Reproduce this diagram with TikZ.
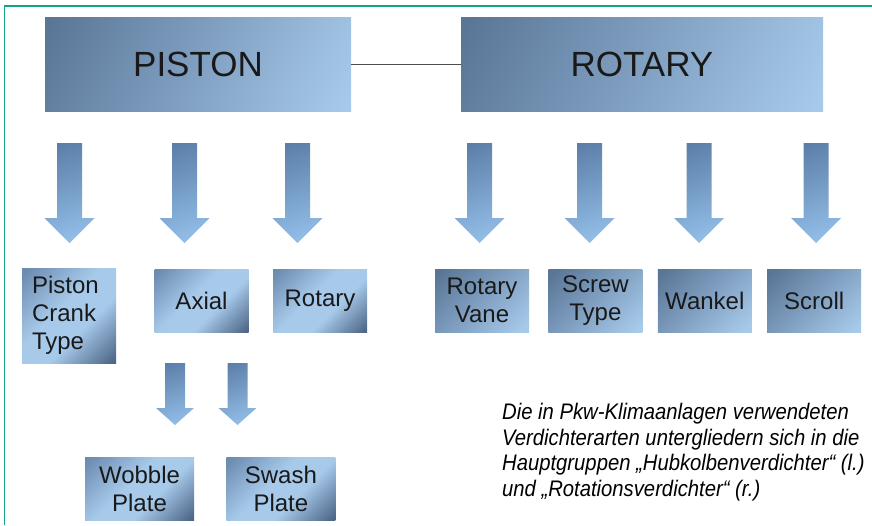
\documentclass[tikz,border=0pt]{standalone}
\usepackage{fontspec}
\setmainfont{Liberation Sans}
\newfontfamily\capfont[FakeStretch=0.9]{Liberation Sans}
\usetikzlibrary{positioning}
\definecolor{frteal}{HTML}{14A386}
\definecolor{bxdark}{HTML}{5A7697}
\definecolor{bxmid}{HTML}{6F8FB2}
\definecolor{bxlight}{HTML}{A7CAEB}
\definecolor{bxdeep}{HTML}{4E6687}
\definecolor{arrdark}{HTML}{5A7DA6}
\definecolor{arrlight}{HTML}{96C2EC}
\pgfdeclarehorizontalshading{bxfade}{100bp}{color(0bp)=(bxdark); color(18bp)=(bxdark); color(82bp)=(bxlight); color(100bp)=(bxlight)}
\pgfdeclarehorizontalshading{bxcorner}{100bp}{color(0bp)=(bxdark); color(18bp)=(bxmid); color(44bp)=(bxlight); color(60bp)=(bxlight); color(84bp)=(bxdeep); color(100bp)=(bxdeep)}
\pgfdeclarehorizontalshading{arrfade}{100bp}{color(0bp)=(arrdark); color(20bp)=(arrdark); color(80bp)=(arrlight); color(100bp)=(arrlight)}

\begin{document}
\begin{tikzpicture}[x=1pt,y=-1pt,
  font=\fontsize{24}{28}\selectfont,
  headbox/.style={shade,shading=bxfade,shading angle=-25,minimum width=306pt,minimum height=94pt,inner sep=0pt,font=\fontsize{35}{40}\selectfont,text=black!90},
  subbox/.style={shade,shading=bxcorner,shading angle=-45,minimum width=94pt,minimum height=63pt,inner sep=0pt,align=center,text=black!90},
  rightbox/.style={subbox,shading=bxfade,shading angle=-45},
  arrowfill/.style={shade,shading=arrfade,shading angle=-70},
  pics/blockarrow/.style n args={4}{code={
    \shade[arrowfill] (-#3,0) -- (#3,0) -- (#3,#1-#2) -- (#4,#1-#2) -- (0,#1) -- (-#4,#1-#2) -- (-#3,#1-#2) -- cycle;}}]
\useasboundingbox (0,0) rectangle (872,525);
\draw[frteal,line width=1.5pt] (4.5,525) -- (4.5,6) -- (872,6);
% main groups
\node[headbox] (piston) at (198,64) {PISTON};
\node[headbox,minimum width=362pt] (rotary) at (642,64) {ROTARY};
\draw[black!70,line width=0.9pt] (piston) -- (rotary);
% piston types
\node[subbox,minimum height=95pt,text width=74pt,align=left] (crank) at (69,315.5) {Piston\\Crank\\Type};
\node[subbox] (axial) at (201.5,301) {Axial};
\node[subbox] (rotpist) at (320,301) {Rotary};
\node[subbox,minimum width=109pt] (wobble) at (139.5,488.5) {Wobble\\Plate};
\node[subbox,minimum width=109pt,right=32pt of wobble] (swash) {Swash\\Plate};
% rotary types
\node[rightbox] (vane) at (482,300.5) {Rotary\\Vane};
\node[rightbox,right=19pt of vane] (screw) {Screw\\Type};
\node[rightbox,right=15pt of screw] (wankel) {Wankel};
\node[rightbox,right=15pt of wankel] (scroll) {Scroll};
% block arrows
\foreach \ax in {69.5,184.5,297.5,479.5,589.5,699,816}
  \pic at (\ax,143) {blockarrow={100}{25}{12.5}{25}};
\foreach \ax in {175,237.5}
  \pic at (\ax,363) {blockarrow={62}{17}{10}{19}};
\node[anchor=north west,align=left,inner sep=0pt,font=\capfont\itshape\fontsize{22.5}{25.7}\selectfont] (note) at (502,403)
  {Die in Pkw-Klimaanlagen verwendeten\\Verdichterarten untergliedern sich in die\\Hauptgruppen „Hubkolbenverdichter“ (l.)\\und „Rotationsverdichter“ (r.)};
\end{tikzpicture}
\end{document}
